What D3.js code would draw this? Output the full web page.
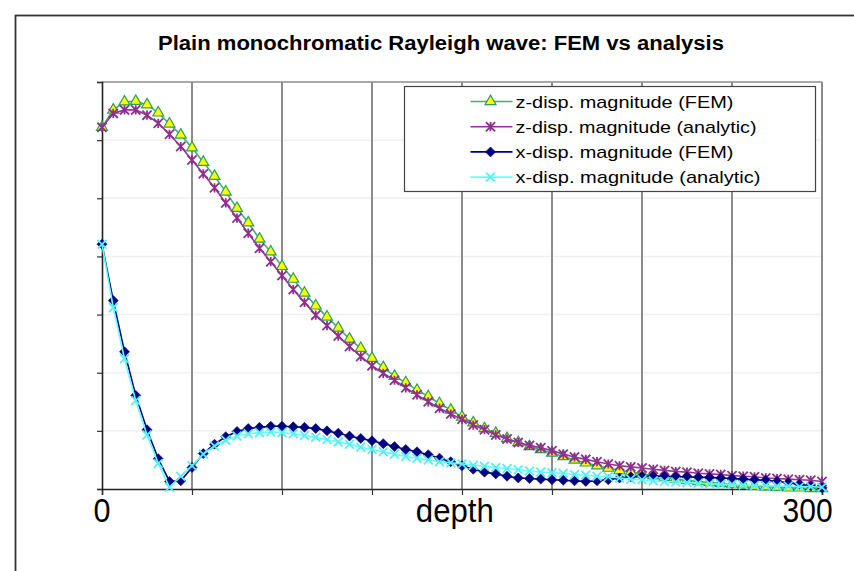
<!DOCTYPE html>
<html>
<head>
<meta charset="utf-8">
<script src="https://cdn.jsdelivr.net/npm/d3@7"></script>
<style>
  body { margin: 0; background: #fff; }
  svg { display: block; font-family: "Liberation Sans", Arial, sans-serif; }
</style>
</head>
<body>
<div id="chart"></div>
<script>
// sample depths (65 samples over 0..300)
const depth = [
  0, 4.6875, 9.375, 14.0625, 18.75, 23.4375, 28.125, 32.8125,
  37.5, 42.1875, 46.875, 51.5625, 56.25, 60.9375, 65.625, 70.3125,
  75, 79.6875, 84.375, 89.0625, 93.75, 98.4375, 103.125, 107.8125,
  112.5, 117.1875, 121.875, 126.5625, 131.25, 135.9375, 140.625, 145.3125,
  150, 154.6875, 159.375, 164.0625, 168.75, 173.4375, 178.125, 182.8125,
  187.5, 192.1875, 196.875, 201.5625, 206.25, 210.9375, 215.625, 220.3125,
  225, 229.6875, 234.375, 239.0625, 243.75, 248.4375, 253.125, 257.8125,
  262.5, 267.1875, 271.875, 276.5625, 281.25, 285.9375, 290.625, 295.3125,
  300
];

const zFem = [
  6.22, 6.52, 6.66, 6.67, 6.61, 6.47, 6.28, 6.09, 5.87, 5.62, 5.38, 5.11, 4.83,
  4.58, 4.30, 4.08, 3.83, 3.61, 3.37, 3.15, 2.96, 2.77, 2.58, 2.42, 2.25, 2.09,
  1.94, 1.83, 1.70, 1.59, 1.47, 1.36, 1.24, 1.14, 1.04, 0.96, 0.87, 0.80, 0.73,
  0.68, 0.62, 0.56, 0.50, 0.45, 0.40, 0.36, 0.32, 0.29, 0.26, 0.23, 0.20, 0.17,
  0.15, 0.13, 0.11, 0.10, 0.08, 0.07, 0.05, 0.04, 0.03, 0.02, 0.02, 0.01, 0.01
];

const zAnalytic = [
  6.22, 6.46, 6.52, 6.52, 6.43, 6.29, 6.10, 5.89, 5.66, 5.42, 5.18, 4.92, 4.66,
  4.40, 4.14, 3.91, 3.67, 3.43, 3.21, 2.99, 2.81, 2.63, 2.45, 2.28, 2.12, 1.99,
  1.87, 1.74, 1.62, 1.50, 1.39, 1.29, 1.20, 1.10, 1.02, 0.93, 0.86, 0.80, 0.75,
  0.71, 0.66, 0.60, 0.55, 0.51, 0.47, 0.43, 0.40, 0.38, 0.36, 0.34, 0.32, 0.30,
  0.29, 0.27, 0.26, 0.25, 0.23, 0.22, 0.21, 0.19, 0.18, 0.17, 0.16, 0.15, 0.13
];

const xFem = [
  4.21, 3.24, 2.36, 1.61, 1.02, 0.52, 0.13, 0.14, 0.37, 0.61, 0.77, 0.90, 0.99,
  1.04, 1.06, 1.08, 1.08, 1.07, 1.06, 1.04, 1.00, 0.96, 0.91, 0.87, 0.83, 0.78,
  0.73, 0.68, 0.64, 0.59, 0.53, 0.47, 0.40, 0.34, 0.29, 0.26, 0.22, 0.19, 0.18,
  0.17, 0.16, 0.15, 0.14, 0.13, 0.14, 0.16, 0.19, 0.21, 0.22, 0.22, 0.22, 0.21,
  0.21, 0.20, 0.20, 0.19, 0.18, 0.17, 0.16, 0.15, 0.13, 0.11, 0.08, 0.05, 0.02
];

const xAnalytic = [
  4.21, 3.12, 2.24, 1.52, 0.93, 0.44, 0.03, 0.22, 0.40, 0.60, 0.74, 0.84, 0.91,
  0.95, 0.97, 0.98, 0.97, 0.95, 0.92, 0.89, 0.85, 0.81, 0.77, 0.72, 0.68, 0.64,
  0.60, 0.56, 0.53, 0.50, 0.47, 0.45, 0.43, 0.41, 0.39, 0.37, 0.35, 0.33, 0.31,
  0.29, 0.28, 0.27, 0.25, 0.24, 0.22, 0.21, 0.19, 0.17, 0.16, 0.14, 0.13, 0.12,
  0.11, 0.10, 0.09, 0.08, 0.08, 0.07, 0.06, 0.06, 0.05, 0.05, 0.04, 0.04, 0.03
];

const seriesNames = [
  "z-disp. magnitude (FEM)",
  "z-disp. magnitude (analytic)",
  "x-disp. magnitude (FEM)",
  "x-disp. magnitude (analytic)"
];

const xTicks = [0, 37.5, 75, 112.5, 150, 187.5, 225, 262.5, 300];
const yTicks = [0, 1, 2, 3, 4, 5, 6, 7];

const width = 854, height = 571;
const plot = { left: 102, right: 822, top: 82, bottom: 489 };

const svg = d3.select("#chart").append("svg")
    .attr("width", width)
    .attr("height", height);

// outer chart frame
svg.append("rect")
    .attr("x", 15.5).attr("y", 15.5)
    .attr("width", width + 20).attr("height", height + 20)
    .attr("fill", "#fff")
    .attr("stroke", "#333")
    .attr("stroke-width", 1.8);

svg.append("text")
    .attr("x", 441).attr("y", 50)
    .attr("text-anchor", "middle")
    .attr("font-weight", "bold")
    .attr("font-size", 19.5)
    .attr("textLength", 566)
    .attr("lengthAdjust", "spacingAndGlyphs")
    .text("Plain monochromatic Rayleigh wave: FEM vs analysis");

const x = d3.scaleLinear().domain([0, 300]).range([plot.left, plot.right]);
const y = d3.scaleLinear().domain([0, 7]).range([plot.bottom, plot.top]);

// faint horizontal grid
svg.append("g")
    .selectAll("line")
    .data(yTicks.slice(1, -1))
    .enter()
    .append("line")
    .attr("x1", plot.left).attr("x2", plot.right)
    .attr("y1", d => y(d)).attr("y2", d => y(d))
    .attr("stroke", "#f0f0f0")
    .attr("stroke-width", 1.5);

// plot area top border
svg.append("line")
    .attr("x1", plot.left).attr("x2", plot.right)
    .attr("y1", y(7)).attr("y2", y(7))
    .attr("stroke", "#8c8c8c")
    .attr("stroke-width", 1.5);

// vertical grid
svg.append("g")
    .selectAll("line")
    .data(xTicks.slice(1))
    .enter()
    .append("line")
    .attr("x1", d => x(d)).attr("x2", d => x(d))
    .attr("y1", plot.top).attr("y2", plot.bottom)
    .attr("stroke", "#8c8c8c")
    .attr("stroke-width", 2);

// axes
const xAxis = svg.append("g")
    .attr("transform", `translate(0,${plot.bottom})`)
    .call(d3.axisBottom(x).tickValues(xTicks).tickSize(6).tickFormat(""));
const yAxis = svg.append("g")
    .attr("transform", `translate(${plot.left},0)`)
    .call(d3.axisLeft(y).tickValues(yTicks).tickSize(5).tickFormat(""));
[xAxis, yAxis].forEach(g => {
    g.select(".domain").attr("stroke", "#222").attr("stroke-width", 1.6);
    g.selectAll(".tick line").attr("stroke", "#333").attr("stroke-width", 1.2);
});

// axis captions
const axisLabels = [
    { t: "0", at: 0, w: 17 },
    { t: "depth", at: 147, w: 78 },
    { t: "300", at: 294, w: 50 }
];
svg.append("g")
    .selectAll("text")
    .data(axisLabels)
    .enter()
    .append("text")
    .attr("x", d => x(d.at))
    .attr("y", 522)
    .attr("text-anchor", "middle")
    .attr("font-size", 33)
    .attr("textLength", d => d.w)
    .attr("lengthAdjust", "spacingAndGlyphs")
    .text(d => d.t);

// marker paths
const asterisk = r => `M${-r},${-r}L${r},${r}M${-r},${r}L${r},${-r}M0,${-r}L0,${r}`;
const cross = r => `M${-r},${-r}L${r},${r}M${-r},${r}L${r},${-r}`;
const diamond = r => `M0,${-r}L${r},0L0,${r}L${-r},0Z`;

const styles = [
    { values: zFem, line: "#3cb371", marker: d3.symbol().type(d3.symbolTriangle).size(52)(),
      fill: "#ffff00", mstroke: "#2e9e5e", mwidth: 1.2 },
    { values: zAnalytic, line: "#993399", marker: asterisk(4.6),
      fill: "none", mstroke: "#8e2f8e", mwidth: 1.8 },
    { values: xFem, line: "#000080", marker: diamond(5),
      fill: "#000080", mstroke: "#000080", mwidth: 0.6 },
    { values: xAnalytic, line: "#66ffff", marker: cross(4.4),
      fill: "none", mstroke: "#55f0f5", mwidth: 1.8 }
];

const line = d3.line()
    .x((d, i) => x(depth[i]))
    .y(d => y(d));

styles.forEach(s => {
    const g = svg.append("g");
    g.append("path")
        .attr("d", line(s.values))
        .attr("fill", "none")
        .attr("stroke", s.line)
        .attr("stroke-width", 1.6);
    g.selectAll("path.m")
        .data(s.values)
        .enter()
        .append("path")
        .attr("class", "m")
        .attr("transform", (d, i) => `translate(${x(depth[i])},${y(d)})`)
        .attr("d", s.marker)
        .attr("fill", s.fill)
        .attr("stroke", s.mstroke)
        .attr("stroke-width", s.mwidth);
});

// legend
const legend = svg.append("g").attr("transform", "translate(404.5,86.5)");
legend.append("rect")
    .attr("width", 411).attr("height", 105)
    .attr("fill", "#fff")
    .attr("stroke", "#444")
    .attr("stroke-width", 1.2);

const legendWidths = [218, 241, 218, 245];
const rows = legend.selectAll("g.row")
    .data(styles)
    .enter()
    .append("g")
    .attr("class", "row")
    .attr("transform", (d, i) => `translate(0,${15 + i * 25.2})`);
rows.append("line")
    .attr("x1", 66).attr("x2", 108)
    .attr("stroke", d => d.line)
    .attr("stroke-width", 1.6);
rows.append("path")
    .attr("transform", "translate(86,0)")
    .attr("d", d => d.marker)
    .attr("fill", d => d.fill)
    .attr("stroke", d => d.mstroke)
    .attr("stroke-width", d => d.mwidth);
rows.append("text")
    .attr("x", 111)
    .attr("y", 6)
    .attr("font-size", 17)
    .attr("textLength", (d, i) => legendWidths[i])
    .attr("lengthAdjust", "spacingAndGlyphs")
    .text((d, i) => seriesNames[i]);
</script>
</body>
</html>
